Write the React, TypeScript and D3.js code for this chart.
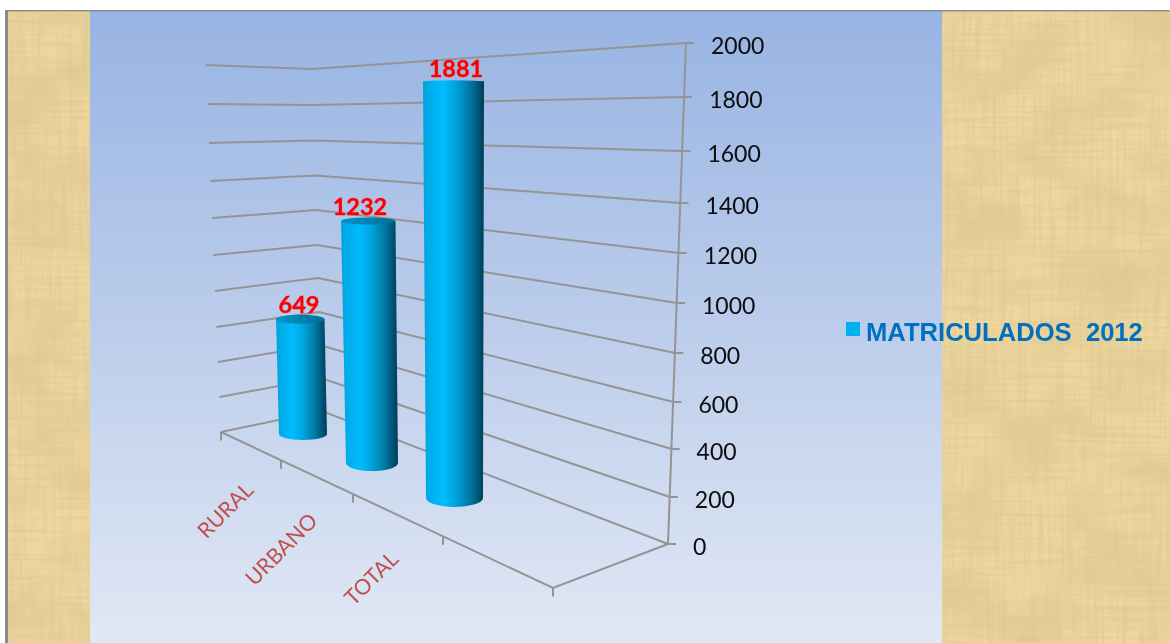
import React from "react";
import * as d3 from "d3";

const categories = ["RURAL", "URBANO", "TOTAL"];
const matriculados = [649, 1232, 1881];
const seriesName = "MATRICULADOS  2012";
const tickValues = [0, 200, 400, 600, 800, 1000, 1200, 1400, 1600, 1800, 2000];

// perspective layout: where each value falls on the three back-wall edges
const rightEdgeY = [544, 497, 449, 402, 353, 303, 253, 203, 151, 97, 43];
const cornerY = [411, 378, 345, 312, 278, 245, 210, 175.5, 140.5, 105, 69];
const leftEdgeY = [432, 397, 362, 327, 291, 255, 218, 181, 143, 104, 65];

const yRight = d3.scaleLinear().domain(tickValues).range(rightEdgeY);
const yCorner = d3.scaleLinear().domain(tickValues).range(cornerY);
const yLeft = d3.scaleLinear().domain(tickValues).range(leftEdgeY);
const xRight = d3.scaleLinear().domain([0, 2000]).range([668, 686]);
const xCorner = d3.scaleLinear().domain([0, 2000]).range([322, 312]);
const xLeft = d3.scaleLinear().domain([0, 2000]).range([221, 206]);

// one vertical scale per cylinder, because depth changes the foreshortening
const barBaseY = [434, 463, 498];
const barFullHeight = [354, 393, 443];
const barBaseX = [[279, 327], [346, 398], [426, 483]];
const barTopX = [[276, 324.5], [341, 395.5], [423, 484]];
const barRy = [6, 8, 9];
const barTopRy = [4.5, 3.5, 1];
const barScales = categories.map((_, i) =>
  d3.scaleLinear().domain([0, 2000]).range([barBaseY[i], barBaseY[i] - barFullHeight[i]])
);

const floorTicksX = d3.scaleLinear().domain([0, 1]).range([221, 553]);
const floorY = d3.scaleLinear().domain([221, 553]).range([432, 588]);
const floorTickX = [221, 281, 353, 443, 553];
const labelCenters = [[225, 510], [281, 549], [371, 578]];
const dataLabelX = [299, 360, 456];
const dataLabelGap = [6, 6, 4];

const line = d3.line<[number, number]>();
const GRID = "#949494";
const FONT = "Lato, sans-serif";

function Papyrus({ x, y, width, height }: { x: number; y: number; width: number; height: number }) {
  return (
    <g>
      <rect x={x} y={y} width={width} height={height} fill="#efd79e" />
      <rect x={x} y={y} width={width} height={height} filter="url(#papyrusBlotch)" />
      <rect x={x} y={y} width={width} height={height} filter="url(#papyrusFibreH)" />
      <rect x={x} y={y} width={width} height={height} filter="url(#papyrusFibreV)" />
    </g>
  );
}

function textureMatrix(gain: number, offset: number, r: number, g: number, b: number) {
  return `0 0 0 0 ${r}  0 0 0 0 ${g}  0 0 0 0 ${b}  ${gain} 0 0 0 ${offset}`;
}

export default function App() {
  return (
    <svg
      width={1170}
      height={643}
      viewBox="0 0 1170 643"
      style={{ position: "fixed", left: 0, top: 0, display: "block", background: "#fff" }}
    >
      <defs>
        <linearGradient id="panel" x1="0" y1="0" x2="0" y2="1">
          <stop offset="0" stopColor="#98b4e3" />
          <stop offset="0.5" stopColor="#bccdeb" />
          <stop offset="1" stopColor="#e1e8f5" />
        </linearGradient>
        <linearGradient id="cyl" x1="0" y1="0" x2="1" y2="0">
          <stop offset="0" stopColor="#00a4de" />
          <stop offset="0.32" stopColor="#06bcff" />
          <stop offset="0.52" stopColor="#00a6de" />
          <stop offset="0.76" stopColor="#007aa6" />
          <stop offset="1" stopColor="#003c58" />
        </linearGradient>
        <linearGradient id="cylTop" x1="0" y1="0" x2="1" y2="0">
          <stop offset="0" stopColor="#0095c8" />
          <stop offset="1" stopColor="#006e96" />
        </linearGradient>
        <filter id="soft" x="-5%" y="-5%" width="110%" height="110%">
          <feGaussianBlur stdDeviation="0.5" />
        </filter>
        <filter id="papyrusBlotch" x="0" y="0" width="100%" height="100%">
          <feTurbulence type="fractalNoise" baseFrequency="0.014 0.02" numOctaves={4} seed={7} />
          <feColorMatrix type="matrix" values={textureMatrix(2.4, -0.95, 0.76, 0.6, 0.28)} />
        </filter>
        <filter id="papyrusFibreH" x="0" y="0" width="100%" height="100%">
          <feTurbulence type="fractalNoise" baseFrequency="0.012 0.3" numOctaves={2} seed={3} />
          <feColorMatrix type="matrix" values={textureMatrix(1.5, -0.62, 0.72, 0.58, 0.3)} />
          <feGaussianBlur stdDeviation="0.4" />
        </filter>
        <filter id="papyrusFibreV" x="0" y="0" width="100%" height="100%">
          <feTurbulence type="fractalNoise" baseFrequency="0.3 0.012" numOctaves={2} seed={11} />
          <feColorMatrix type="matrix" values={textureMatrix(1.5, -0.62, 0.72, 0.58, 0.3)} />
          <feGaussianBlur stdDeviation="0.4" />
        </filter>
      </defs>

      {/* slide background */}
      <Papyrus x={8} y={11} width={82} height={632} />
      <Papyrus x={942} y={11} width={228} height={632} />
      <rect x={90} y={11} width={852} height={632} fill="url(#panel)" />
      <rect x={5} y={10} width={1165} height={1.4} fill="#8a8a8a" />
      <rect x={5} y={10} width={3} height={633} fill="#8a8a8a" />

      <g filter="url(#soft)">
        {/* back walls */}
        {tickValues.map((v) => (
          <path
            key={v}
            d={
              line([
                [xLeft(v), yLeft(v)],
                [xCorner(v), yCorner(v)],
                [xRight(v), yRight(v)],
                [xRight(v) + 8, yRight(v)],
              ]) ?? ""
            }
            fill="none"
            stroke={GRID}
            strokeWidth={2}
          />
        ))}
        <path
          d={line([[xRight(0), yRight(0)], [xRight(2000), yRight(2000)]]) ?? ""}
          fill="none"
          stroke={GRID}
          strokeWidth={2}
        />
        {/* floor */}
        <path
          d={
            line([
              [floorTicksX(0), floorY(floorTicksX(0))],
              [floorTicksX(1), floorY(floorTicksX(1))],
              [xRight(0), yRight(0)],
            ]) ?? ""
          }
          fill="none"
          stroke={GRID}
          strokeWidth={2}
        />
        {floorTickX.map((x) => (
          <path
            key={x}
            d={line([[x, floorY(x)], [x, floorY(x) + 8.5]]) ?? ""}
            stroke={GRID}
            strokeWidth={2}
          />
        ))}

        {/* cylinders */}
        {matriculados.map((v, i) => {
          const topY = barScales[i](v);
          const baseY = barScales[i](0);
          const [tl, tr] = barTopX[i];
          const [bl, br] = barBaseX[i];
          const body = `M${tl},${topY} L${tr},${topY} L${br},${baseY} A${(br - bl) / 2},${barRy[i]} 0 0 1 ${bl},${baseY} Z`;
          return (
            <g key={categories[i]}>
              <path d={body} fill="url(#cyl)" />
              <ellipse
                cx={(tl + tr) / 2}
                cy={topY}
                rx={(tr - tl) / 2}
                ry={barTopRy[i]}
                fill={i === 2 ? "url(#cyl)" : "url(#cylTop)"}
              />
            </g>
          );
        })}

        {/* value axis labels */}
        {tickValues.map((v) => (
          <text
            key={v}
            x={xRight(v) + 25}
            y={yRight(v) + 10.5}
            fontFamily={FONT}
            fontSize={23}
            fill="#0a0a0a"
          >
            {v}
          </text>
        ))}

        {/* category labels */}
        {categories.map((c, i) => (
          <text
            key={c}
            transform={`translate(${labelCenters[i][0]},${labelCenters[i][1]}) rotate(-45)`}
            textAnchor="middle"
            dominantBaseline="central"
            fontFamily={FONT}
            fontSize={21.5}
            fill="#c0504d"
          >
            {c}
          </text>
        ))}

        {/* data labels */}
        {matriculados.map((v, i) => (
          <text
            key={categories[i]}
            x={dataLabelX[i]}
            y={barScales[i](v) - dataLabelGap[i]}
            textAnchor="middle"
            fontFamily={FONT}
            fontWeight={700}
            fontSize={23.5}
            fill="#ff0000"
            stroke="#ff0000"
            strokeWidth={0.35}
          >
            {v}
          </text>
        ))}

        {/* legend */}
        <rect x={846} y={322} width={14} height={14} fill="#00b0f0" />
        <text
          x={866}
          y={341}
          fontFamily="'Liberation Sans', Arial, sans-serif"
          fontWeight={700}
          fontSize={25.6}
          fill="#0070c0"
          style={{ whiteSpace: "pre" }}
        >
          {seriesName}
        </text>
      </g>
    </svg>
  );
}
